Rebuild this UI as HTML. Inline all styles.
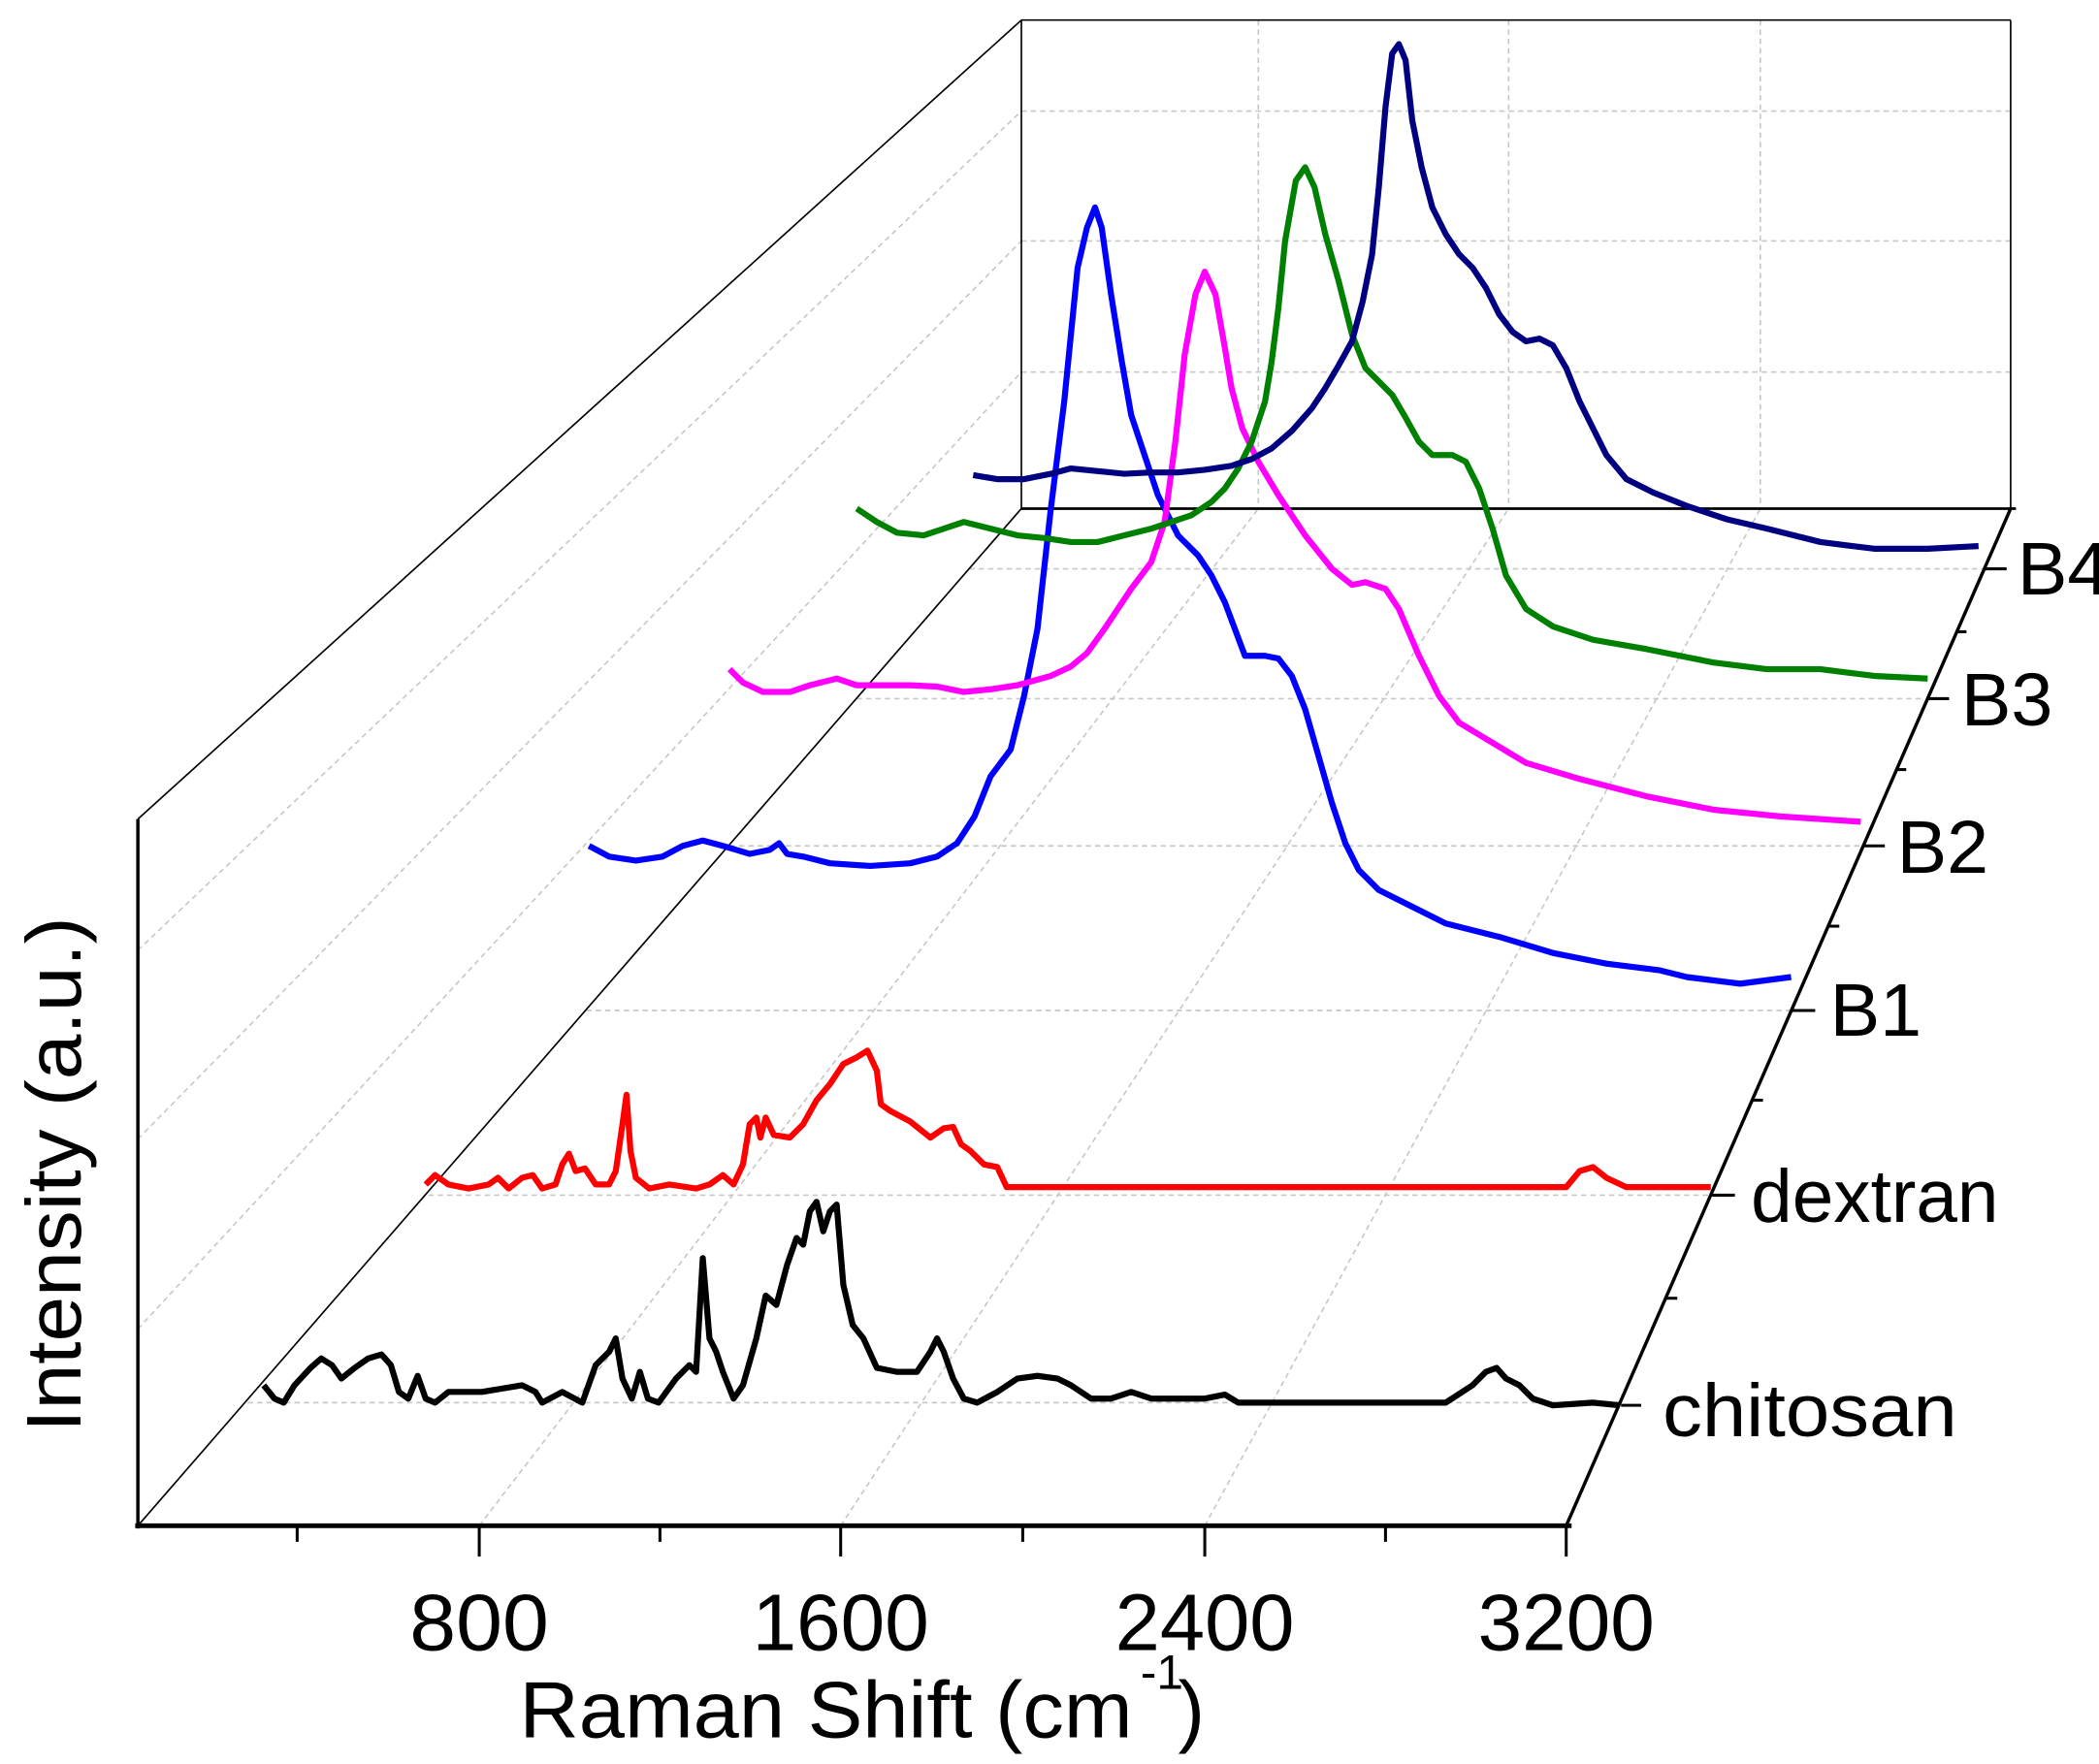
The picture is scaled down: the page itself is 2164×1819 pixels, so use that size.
<!DOCTYPE html>
<html><head><meta charset="utf-8"><style>html,body{margin:0;padding:0;background:#fff}svg{display:block}</style></head>
<body>
<svg width="2164" height="1819" viewBox="0 0 1568 1318" preserveAspectRatio="none" xmlns="http://www.w3.org/2000/svg" font-family="Liberation Sans, Arial, sans-serif">
<rect width="1568" height="1318" fill="#fff"/>
<g stroke="#c8c8c8" stroke-width="1.2" stroke-dasharray="4,3" fill="none">
<line x1="185" y1="1048" x2="1210" y2="1048"/>
<line x1="320" y1="893" x2="1278" y2="893"/>
<line x1="438" y1="755" x2="1338" y2="755"/>
<line x1="545" y1="632" x2="1390" y2="632"/>
<line x1="640" y1="522" x2="1438" y2="522"/>
<line x1="724" y1="425" x2="1482" y2="425"/>
<line x1="358" y1="1140" x2="940" y2="380"/>
<line x1="628" y1="1140" x2="1127" y2="380"/>
<line x1="900" y1="1140" x2="1315" y2="380"/>
<line x1="103" y1="993" x2="763" y2="278"/>
<line x1="103" y1="851" x2="763" y2="180"/>
<line x1="103" y1="710" x2="763" y2="83"/>
<line x1="763" y1="278" x2="1502" y2="278"/>
<line x1="763" y1="180" x2="1502" y2="180"/>
<line x1="763" y1="83" x2="1502" y2="83"/>
<line x1="940" y1="15" x2="940" y2="380"/>
<line x1="1127" y1="15" x2="1127" y2="380"/>
<line x1="1315" y1="15" x2="1315" y2="380"/>
</g>
<g stroke="#000" fill="none" stroke-width="1.2">
<line x1="103" y1="612" x2="763" y2="15"/>
<line x1="103" y1="1140" x2="763" y2="380"/>
<line x1="763" y1="15" x2="1502" y2="15"/>
<line x1="1502" y1="15" x2="1502" y2="380"/>
<line x1="763" y1="15" x2="763" y2="380"/>
<line x1="763" y1="380" x2="1506" y2="380" stroke-width="2"/>
<line x1="103" y1="612" x2="103" y2="1142" stroke-width="2.5"/>
<line x1="1170" y1="1140" x2="1502" y2="380" stroke-width="2.5"/>
<line x1="101" y1="1140" x2="1174" y2="1140" stroke-width="3.5"/>
<g stroke-width="2.2">
<line x1="358" y1="1140" x2="358" y2="1163"/><line x1="628" y1="1140" x2="628" y2="1163"/>
<line x1="900" y1="1140" x2="900" y2="1163"/><line x1="1170" y1="1140" x2="1170" y2="1163"/>
<line x1="222" y1="1140" x2="222" y2="1152"/><line x1="493" y1="1140" x2="493" y2="1152"/>
<line x1="764" y1="1140" x2="764" y2="1152"/><line x1="1035" y1="1140" x2="1035" y2="1152"/>
<line x1="1211" y1="1050" x2="1226" y2="1050"/>
<line x1="1279" y1="893" x2="1296" y2="893"/>
<line x1="1339" y1="755" x2="1356" y2="755"/>
<line x1="1392" y1="632" x2="1408" y2="632"/>
<line x1="1440" y1="522" x2="1456" y2="522"/>
<line x1="1483" y1="425" x2="1499" y2="425"/>
<line x1="1245" y1="970" x2="1253" y2="970"/>
<line x1="1309" y1="822" x2="1317" y2="822"/>
<line x1="1366" y1="692" x2="1374" y2="692"/>
<line x1="1416" y1="575" x2="1424" y2="575"/>
<line x1="1461" y1="472" x2="1469" y2="472"/>
</g>
</g>
<g fill="none" stroke-width="4.5" stroke-linejoin="round">
<polyline stroke="#000" points="197,1035 205,1045 212,1048 220,1035 232,1022 240,1015 248,1020 255,1030 265,1022 275,1015 285,1012 292,1020 298,1040 305,1045 312,1028 318,1045 325,1048 335,1040 360,1040 390,1035 400,1040 405,1048 420,1040 435,1048 445,1020 455,1010 460,1000 465,1030 472,1045 478,1025 484,1045 492,1048 505,1030 515,1020 520,1025 525,940 530,1000 535,1010 540,1025 548,1045 555,1035 565,1000 572,968 580,975 588,945 595,925 600,930 605,905 610,898 615,920 620,905 625,900 630,960 637,990 645,1000 655,1022 670,1025 685,1025 695,1010 700,1000 705,1010 712,1030 720,1045 730,1048 745,1040 760,1030 775,1028 790,1030 800,1035 815,1045 830,1045 845,1040 860,1045 900,1045 915,1042 925,1048 1000,1048 1080,1048 1100,1035 1110,1025 1118,1022 1125,1030 1135,1035 1145,1045 1160,1050 1190,1048 1210,1050"/>
<polyline stroke="#ff0000" points="318,885 325,878 335,885 350,888 365,885 372,880 380,888 390,880 398,878 405,888 415,885 420,870 425,862 430,875 437,873 445,885 455,885 460,875 465,840 468,818 471,860 475,880 485,888 500,885 520,888 530,885 540,878 548,885 555,870 560,840 565,835 568,850 572,835 578,848 590,850 600,840 610,822 620,810 630,795 640,790 648,785 655,800 658,825 665,830 680,838 695,850 705,843 712,842 718,855 725,860 735,870 745,872 752,887 770,887 1000,887 1170,887 1180,875 1190,872 1200,880 1215,887 1278,887"/>
<polyline stroke="#0000ff" points="440,632 455,640 475,643 495,640 510,632 525,628 540,632 560,638 575,635 582,630 588,638 600,640 620,645 650,647 680,645 700,640 715,630 728,610 740,580 755,560 765,520 775,470 785,380 795,300 805,200 812,170 818,155 823,170 830,220 838,270 845,310 855,340 865,370 880,400 895,415 905,430 915,450 930,490 945,490 955,492 965,505 975,530 985,565 995,600 1005,630 1015,650 1030,665 1050,675 1080,690 1120,700 1160,712 1200,720 1240,725 1260,730 1300,735 1338,730"/>
<polyline stroke="#ff00ff" points="545,500 555,510 570,517 590,517 605,512 625,507 640,512 660,512 680,512 700,513 720,517 740,515 760,512 785,505 800,498 812,488 825,470 835,455 845,440 860,420 870,390 878,330 885,265 893,220 900,203 908,220 915,260 920,290 928,320 940,345 955,370 965,385 975,400 995,425 1010,437 1020,435 1035,440 1045,455 1060,490 1075,520 1090,540 1110,552 1140,570 1180,582 1230,595 1280,605 1330,610 1390,614"/>
<polyline stroke="#008000" points="640,380 655,390 670,398 690,400 705,395 720,390 740,395 760,400 780,402 800,405 820,405 840,400 860,395 875,390 890,385 905,375 915,365 925,350 935,330 945,300 950,270 955,230 960,180 968,135 975,125 982,140 990,175 1000,210 1010,250 1020,275 1030,285 1040,295 1050,312 1060,330 1070,340 1085,340 1095,345 1105,365 1115,395 1125,430 1140,455 1160,468 1190,478 1230,485 1280,495 1320,500 1360,500 1400,505 1440,507"/>
<polyline stroke="#000080" points="727,355 745,358 765,358 785,354 800,350 820,352 840,354 860,353 880,353 900,351 920,348 935,343 950,335 965,322 980,305 990,290 1000,273 1010,255 1018,225 1025,190 1030,140 1035,80 1040,40 1045,33 1050,45 1055,90 1062,125 1070,155 1080,175 1090,190 1100,200 1110,215 1120,235 1130,248 1140,255 1150,253 1160,258 1170,275 1180,300 1190,320 1200,340 1215,358 1235,368 1260,378 1290,388 1320,395 1360,405 1400,410 1440,410 1478,408"/>
</g>
<g font-size="60" fill="#000">
<text x="306" y="1233" textLength="104" lengthAdjust="spacingAndGlyphs">800</text>
<text x="562" y="1233" textLength="132" lengthAdjust="spacingAndGlyphs">1600</text>
<text x="833" y="1233" textLength="134" lengthAdjust="spacingAndGlyphs">2400</text>
<text x="1104" y="1233" textLength="132" lengthAdjust="spacingAndGlyphs">3200</text>
<text x="388" y="1298" textLength="458" lengthAdjust="spacingAndGlyphs">Raman Shift (cm</text>
<text x="852" y="1262" font-size="36">-1</text>
<text x="880" y="1298">)</text>
<text transform="translate(60,1070) rotate(-90)" font-size="58" textLength="385" lengthAdjust="spacingAndGlyphs">Intensity (a.u.)</text>
</g>
<g font-size="56" fill="#000">
<text x="1242" y="1073" textLength="220" lengthAdjust="spacingAndGlyphs">chitosan</text>
<text x="1308" y="913" textLength="185" lengthAdjust="spacingAndGlyphs">dextran</text>
<text x="1367" y="774">B1</text>
<text x="1417" y="652">B2</text>
<text x="1465" y="542">B3</text>
<text x="1507" y="444">B4</text>
</g>
</svg>
</body></html>
